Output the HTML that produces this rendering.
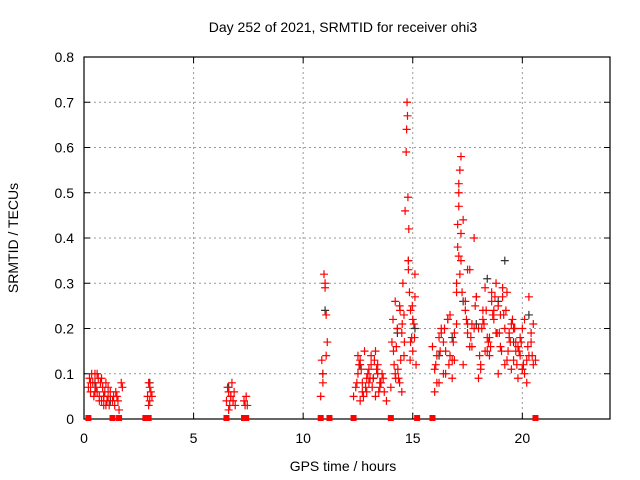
<!DOCTYPE html>
<html><head><meta charset="utf-8"><style>
body{margin:0;background:#fff}
svg{display:block;font-family:"Liberation Sans",sans-serif}
</style></head><body>
<svg id="chart" width="640" height="480">
<text x="343" y="32" text-anchor="middle" font-size="14">Day 252 of 2021, SRMTID for receiver ohi3</text>
<text x="343" y="471" text-anchor="middle" font-size="14">GPS time / hours</text>
<text transform="translate(18,238) rotate(-90)" text-anchor="middle" font-size="14">SRMTID / TECUs</text>
<g id="grid"></g>
<g id="axes"></g>
<g id="marks"></g>
</svg>
<script>
const xTicks=[0,5,10,15,20];
const yTicks=[0,0.1,0.2,0.3,0.4,0.5,0.6,0.7,0.8];
const yTickLabels=["0","0.1","0.2","0.3","0.4","0.5","0.6","0.7","0.8"];
const gapTimes=[0.2,1.3,1.6,2.8,2.95,6.5,7.3,7.4,10.8,11.2,12.3,14.0,15.2,15.9,20.6];
const redTimes=[0.2,0.25,0.3,0.35,0.4,0.45,0.5,0.55,0.6,0.65,0.7,0.75,0.8,0.85,0.9,0.95,1.0,1.05,1.1,1.15,1.2,1.3,1.35,1.4,1.45,1.5,1.55,1.6,1.7,1.75,0.3,0.5,0.6,0.7,0.8,0.9,1.0,1.1,
2.9,2.95,3.0,3.05,3.1,2.95,3.0,
6.5,6.55,6.6,6.65,6.7,6.75,6.8,6.85,6.9,6.6,6.7,6.8,7.3,7.35,7.4,7.45,
10.8,10.85,10.9,10.95,11.0,11.05,11.1,10.9,11.0,11.05,
12.3,12.4,12.5,12.6,12.7,12.8,12.9,13.0,13.1,13.2,13.3,13.4,13.5,13.6,13.7,13.8,12.5,12.7,12.9,13.1,13.3,13.5,12.6,13.0,13.4,
12.45,12.65,12.85,13.05,13.25,13.45,13.65,12.55,12.75,12.95,13.15,13.35,13.55,
14.0,14.05,14.1,14.15,14.2,14.25,14.3,14.35,14.4,14.45,14.5,14.55,14.6,14.65,14.7,14.72,14.74,14.76,14.78,14.8,14.82,14.85,14.9,14.95,15.0,15.05,15.1,15.15,14.2,14.4,14.6,14.8,15.0,14.3,14.5,14.9,15.1,
14.12,14.32,14.52,14.62,14.88,14.98,15.08,14.22,14.42,
15.9,16.0,16.1,16.2,16.3,16.4,16.5,16.6,16.7,16.8,16.9,17.0,17.05,17.1,17.15,17.2,17.3,17.4,17.5,17.6,17.7,17.8,17.9,18.0,18.1,18.2,18.3,18.4,18.5,18.6,18.7,18.8,18.9,19.0,19.1,19.2,19.3,19.4,19.5,19.6,19.7,19.8,19.9,20.0,20.1,20.2,20.3,20.4,20.5,20.6,
16.0,16.2,16.4,16.6,16.8,17.0,17.1,17.2,17.4,17.6,17.8,18.0,18.2,18.4,18.6,18.8,19.0,19.2,19.4,19.6,19.8,20.0,20.2,20.4,
16.1,16.5,16.9,17.0,17.1,17.3,17.5,17.9,18.3,18.7,19.1,19.5,19.9,20.3,17.1,17.2,17.05,17.15,
16.3,16.7,17.5,17.7,18.1,18.5,18.9,19.3,19.7,20.1,20.5,
16.05,16.25,16.45,16.65,16.85,17.25,17.45,17.65,17.85,18.05,18.25,18.45,18.65,18.85,19.05,19.25,19.45,19.65,19.85,20.05,20.25,20.45,
18.15,18.35,18.55,18.75,18.95,19.15,19.35,19.55,19.75,19.95];
const redValues=[0.07,0.09,0.06,0.1,0.08,0.05,0.1,0.07,0.06,0.09,0.05,0.08,0.04,0.07,0.03,0.06,0.08,0.04,0.05,0.03,0.06,0.04,0.05,0.03,0.06,0.05,0.04,0.02,0.08,0.07,0.08,0.06,0.1,0.04,0.09,0.05,0.03,0.07,
0.05,0.08,0.04,0.06,0.05,0.03,0.07,
0.04,0.07,0.06,0.03,0.05,0.08,0.04,0.06,0.03,0.02,0.05,0.04,0.04,0.03,0.05,0.03,
0.05,0.13,0.1,0.32,0.29,0.23,0.17,0.08,0.3,0.14,
0.05,0.07,0.1,0.13,0.08,0.15,0.06,0.11,0.14,0.09,0.05,0.12,0.08,0.1,0.06,0.04,0.14,0.06,0.09,0.12,0.15,0.07,0.04,0.08,0.1,
0.08,0.11,0.07,0.09,0.13,0.06,0.09,0.12,0.05,0.1,0.07,0.11,0.08,
0.07,0.17,0.22,0.12,0.26,0.16,0.2,0.09,0.25,0.13,0.19,0.3,0.23,0.46,0.59,0.64,0.7,0.67,0.49,0.35,0.42,0.28,0.24,0.18,0.15,0.21,0.27,0.12,0.1,0.08,0.14,0.33,0.22,0.2,0.06,0.17,0.32,
0.15,0.11,0.21,0.17,0.13,0.25,0.18,0.09,0.24,
0.16,0.11,0.14,0.08,0.19,0.17,0.1,0.22,0.14,0.09,0.19,0.3,0.38,0.5,0.55,0.58,0.44,0.26,0.21,0.33,0.16,0.4,0.27,0.2,0.12,0.24,0.29,0.18,0.14,0.26,0.22,0.3,0.1,0.16,0.27,0.2,0.13,0.18,0.11,0.2,0.15,0.09,0.14,0.2,0.1,0.13,0.27,0.17,0.21,0.13,
0.06,0.18,0.1,0.22,0.13,0.21,0.52,0.41,0.24,0.16,0.2,0.09,0.22,0.15,0.28,0.19,0.23,0.12,0.19,0.13,0.16,0.11,0.08,0.19,
0.08,0.15,0.13,0.28,0.36,0.12,0.19,0.27,0.15,0.24,0.29,0.21,0.18,0.14,0.47,0.35,0.43,0.32,
0.2,0.23,0.33,0.21,0.11,0.18,0.25,0.28,0.17,0.22,0.12,
0.12,0.15,0.2,0.12,0.17,0.28,0.22,0.18,0.25,0.14,0.21,0.17,0.23,0.19,0.15,0.24,0.17,0.2,0.15,0.12,0.16,0.14,
0.2,0.24,0.16,0.27,0.19,0.23,0.15,0.22,0.12,0.17];
const greyTimes=[0.5,0.9,1.2,3.0,6.6,10.9,11.0,12.6,13.2,14.3,14.8,15.1,16.2,16.8,17.3,17.9,18.4,18.9,19.2,19.6,20.0,20.3];
const greyValues=[0.08,0.05,0.04,0.08,0.07,0.1,0.24,0.12,0.09,0.19,0.35,0.2,0.14,0.18,0.26,0.21,0.31,0.26,0.35,0.17,0.11,0.23];

const L=84,R=610,T=57,B=419;
const xs=v=>L+(v/24)*(R-L);
const ys=v=>B-(v/0.8)*(B-T);
const NS="http://www.w3.org/2000/svg";
function mk(tag,attrs,parent){const e=document.createElementNS(NS,tag);for(const k in attrs)e.setAttribute(k,attrs[k]);parent.appendChild(e);return e;}
const grid=document.getElementById('grid'),axes=document.getElementById('axes'),marks=document.getElementById('marks');
xTicks.forEach(t=>{
  if(t>0){const g=mk('line',{x1:xs(t),x2:xs(t),y1:T,y2:B,stroke:'#999','stroke-dasharray':'2,3'},grid);
  
  }
  mk('line',{x1:xs(t),x2:xs(t),y1:B,y2:B-6,stroke:'#000'},axes);
  mk('line',{x1:xs(t),x2:xs(t),y1:T,y2:T+6,stroke:'#000'},axes);
  const lb=mk('text',{x:xs(t),y:B+24,'text-anchor':'middle','font-size':14},axes);lb.textContent=t;
  
  
});
yTicks.forEach((t,i)=>{
  if(t>0&&t<0.8){const g=mk('line',{x1:L,x2:R,y1:ys(t),y2:ys(t),stroke:'#999','stroke-dasharray':'2,3'},grid);
  
  }
  mk('line',{x1:L,x2:L+6,y1:ys(t),y2:ys(t),stroke:'#000'},axes);
  mk('line',{x1:R,x2:R-6,y1:ys(t),y2:ys(t),stroke:'#000'},axes);
  const lb=mk('text',{x:L-10,y:ys(t)+5,'text-anchor':'end','font-size':14},axes);lb.textContent=yTickLabels[i];
  
  
});
const fr=mk('rect',{x:L,y:T,width:R-L,height:B-T,fill:'none',stroke:'#000','stroke-width':1.2},axes);


function plus(x,y,c){const p=mk('path',{d:`M${x-4},${y}h8M${x},${y-4}v8`,stroke:c,'stroke-width':1.2,fill:'none'},marks);return p;}
greyTimes.forEach((t,i)=>{const p=plus(xs(t),ys(greyValues[i]),'#333');
  
  });
redTimes.forEach((t,i)=>{const p=plus(xs(t),ys(redValues[i]),'#f00');
  
  });
gapTimes.forEach(t=>{const r=mk('rect',{x:xs(t)-3,y:B-4,width:6,height:6,fill:'#f00'},marks);
  
  });
</script>
</body></html>
